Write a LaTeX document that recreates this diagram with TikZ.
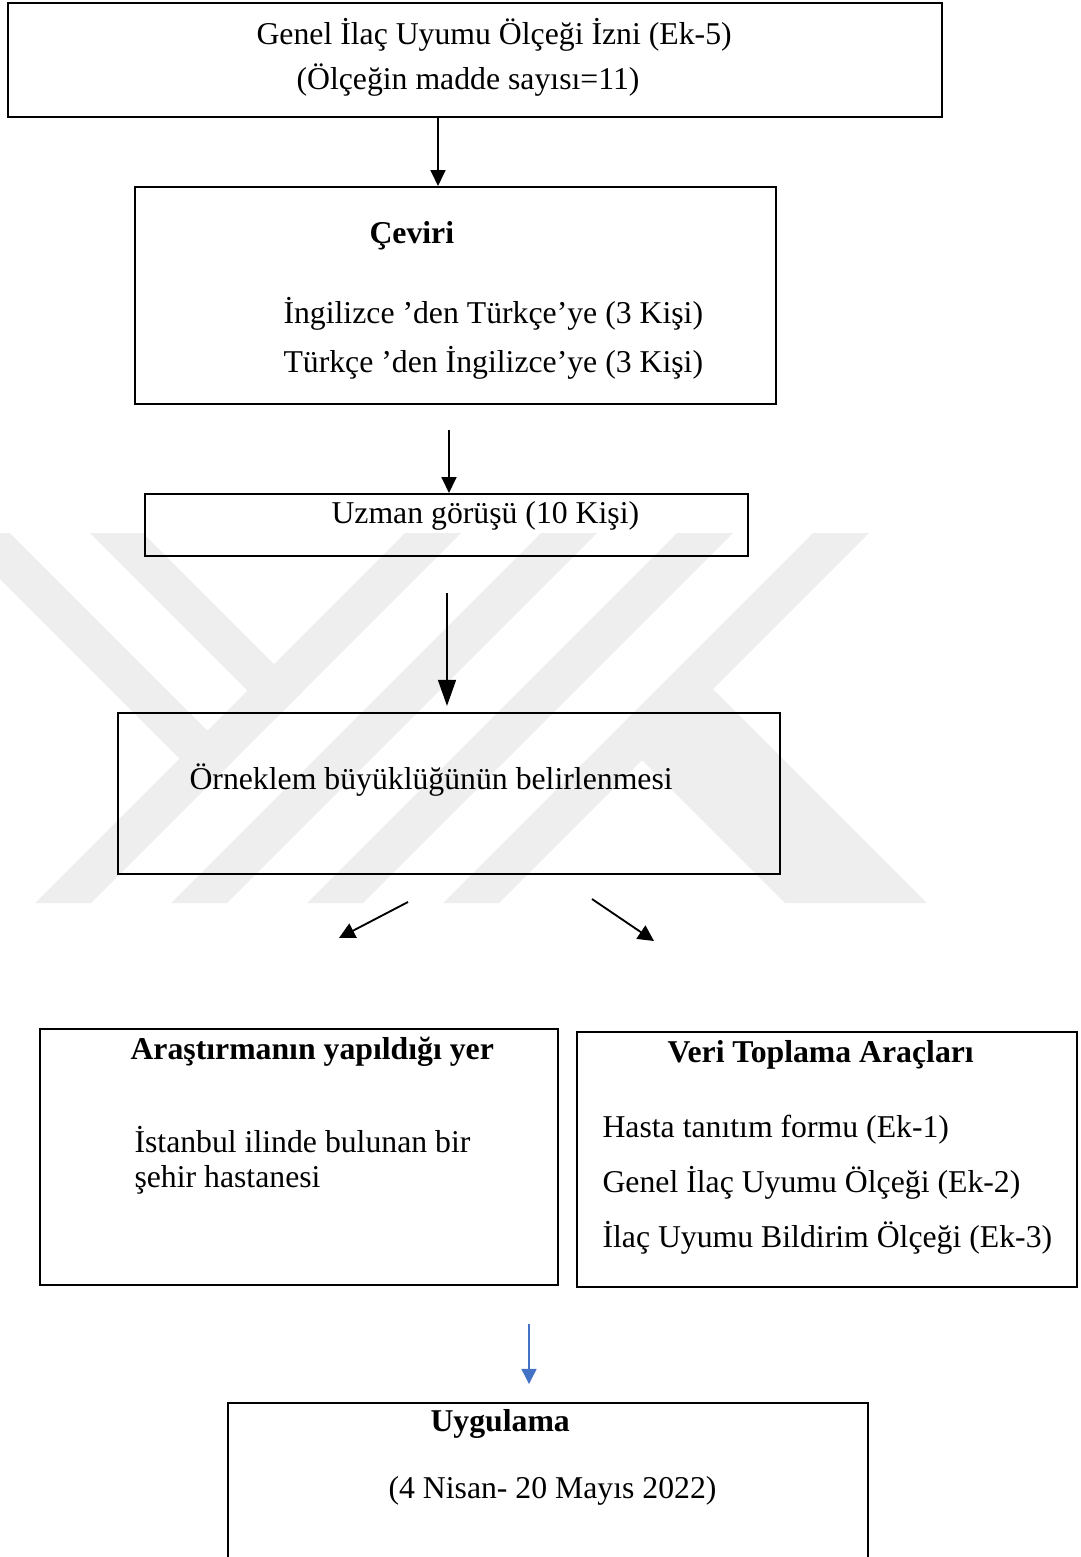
\documentclass[tikz,border=0pt]{standalone}
\usepackage{fontspec}
\setmainfont{Liberation Serif}
\usetikzlibrary{arrows.meta, fit}
\definecolor{wmark}{RGB}{238,238,238}
\definecolor{okblue}{RGB}{68,114,196}
\tikzstyle{box} = [rectangle, draw=black, line width=0.8pt, inner sep=0pt]
\tikzstyle{txt} = [anchor=base west, inner sep=0pt,
  font=\fontsize{12}{14}\selectfont]
\tikzstyle{head} = [txt, font=\fontsize{12}{14}\selectfont\bfseries]
\tikzstyle{arrow} = [line width=0.5pt, -{Triangle[width=5.7pt, length=6pt]}]
\tikzstyle{bigarrow} = [line width=0.5pt,
  -{Triangle[width=6.8pt, length=9.8pt]}]
\tikzstyle{diagarrow} = [line width=0.7pt,
  -{Triangle[width=6pt, length=6pt]}]
\tikzstyle{bluearrow} = [draw=okblue, line width=0.5pt,
  -{Triangle[width=5.7pt, length=5.7pt]}]

\begin{document}
\begin{tikzpicture}[x=0.378pt, y=-0.378pt]
  \useasboundingbox (0,0) rectangle (1081,1557);
  % faint watermark behind the chart
  \foreach \a in {405,541,677,813}
    \fill[wmark] (\a,533) -- (\a+56,533) -- (\a-314,903) -- (\a-370,903) -- cycle;
  \fill[wmark] (-46,533) -- (10,533) -- (235.5,758.5) -- (207.5,786.5) -- cycle;
  \fill[wmark] (90,533) -- (143,533) -- (302,692) -- (275.5,718.5) -- cycle;
  \fill[wmark] (713,689) -- (927,903) -- (785,903) -- (642,760) -- cycle;

  % boxes
  \node (izin) [box, fit={(8,3) (942,117)}] {};
  \node (ceviri) [box, fit={(135,187) (776,404)}] {};
  \node (uzman) [box, fit={(145,494) (748,556)}] {};
  \node (ornek) [box, fit={(118,713) (780,874)}] {};
  \node (yer) [box, fit={(40,1029) (558,1285)}] {};
  \node (arac) [box, fit={(577,1032) (1077,1287)}] {};
  \node (uygulama) [box, fit={(228,1403) (868,1600)}] {};

  % texts
  \node (izin-t1) [txt] at (256,44) {Genel İlaç Uyumu Ölçeği İzni (Ek-5)};
  \node (izin-t2) [txt] at (296,89) {(Ölçeğin madde sayısı=11)};
  \node (ceviri-t) [head] at (369,243) {Çeviri};
  \node (ceviri-t1) [txt] at (283,323) {İngilizce ’den Türkçe’ye (3 Kişi)};
  \node (ceviri-t2) [txt] at (283,372) {Türkçe ’den İngilizce’ye (3 Kişi)};
  \node (uzman-t) [txt] at (331,523) {Uzman görüşü (10 Kişi)};
  \node (ornek-t) [txt] at (189,789) {Örneklem büyüklüğünün belirlenmesi};
  \node (yer-t) [head] at (130,1059) {Araştırmanın yapıldığı yer};
  \node (yer-t1) [txt] at (134,1152) {İstanbul ilinde bulunan bir};
  \node (yer-t2) [txt] at (134,1187) {şehir hastanesi};
  \node (arac-t) [head] at (667,1062) {Veri Toplama Araçları};
  \node (arac-t1) [txt] at (602,1137) {Hasta tanıtım formu (Ek-1)};
  \node (arac-t2) [txt] at (602,1192) {Genel İlaç Uyumu Ölçeği (Ek-2)};
  \node (arac-t3) [txt] at (602,1247) {İlaç Uyumu Bildirim Ölçeği (Ek-3)};
  \node (uygulama-t) [head] at (430,1431) {Uygulama};
  \node (uygulama-t1) [txt] at (388,1498) {(4 Nisan- 20 Mayıs 2022)};

  % arrows
  \coordinate (a1) at (438,0);
  \coordinate (a2) at (449,430);
  \coordinate (a3) at (447,593);
  \coordinate (d1s) at (408,902);
  \coordinate (d1e) at (339,938);
  \coordinate (d2s) at (592,899);
  \coordinate (d2e) at (654,941);
  \coordinate (b1s) at (529,1324);
  \coordinate (b1e) at (529,1384);
  \draw [arrow] (izin.south -| a1) -- (ceviri.north -| a1);
  \draw [arrow] (a2) -- (uzman.north -| a2);
  \draw [bigarrow, shorten >=2.3pt] (a3) -- (ornek.north -| a3);
  \draw [diagarrow] (d1s) -- (d1e);
  \draw [diagarrow] (d2s) -- (d2e);
  \draw [bluearrow] (b1s) -- (b1e);
\end{tikzpicture}
\end{document}
